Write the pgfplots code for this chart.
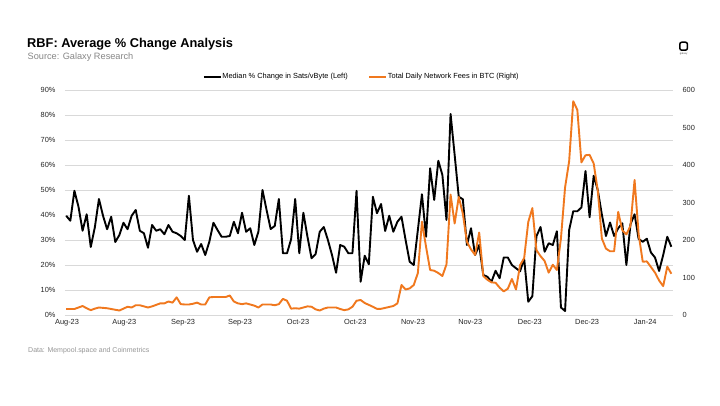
\documentclass[border=0pt]{standalone}
\usepackage{fontspec}
\setmainfont{Liberation Sans}
\usepackage{pgfplots}
\usepackage{pgfplotstable}
\pgfplotsset{compat=1.18}
\definecolor{fee}{RGB}{240,120,30}
\definecolor{gridc}{RGB}{217,217,217}
\definecolor{subgray}{RGB}{135,135,135}
\definecolor{foot}{RGB}{150,150,150}
\pgfplotstableread{
i med fee
0 39.7 16
1 37.7 16
2 49.7 16
3 43.3 20
4 33.7 24
5 40.3 18
6 27.2 13
7 35.1 17
8 46.4 20
9 39.7 19
10 34.3 18
11 39.3 16
12 29.2 14
13 32.0 12
14 36.9 17
15 34.3 22
16 39.7 20
17 42.0 26
18 33.7 26
19 32.7 23
20 26.9 20
21 36.0 23
22 33.7 27
23 34.3 31
24 32.3 31
25 36.0 36
26 33.3 33
27 32.7 47
28 31.6 29
29 30.0 28
30 47.7 28
31 30.0 30
32 25.3 33
33 28.4 28
34 24.0 28
35 29.3 47
36 36.9 48
37 34.0 48
38 31.3 48
39 31.3 48
40 31.6 52
41 37.3 36
42 32.7 31
43 40.9 29
44 33.3 31
45 34.7 28
46 28.0 25
47 33.3 20
48 50.0 28
49 42.0 28
50 34.4 28
51 35.6 26
52 46.4 29
53 24.7 43
54 24.7 38
55 30.3 17
56 46.4 18
57 24.7 17
58 40.9 20
59 31.3 23
60 22.7 22
61 24.4 15
62 33.3 12
63 35.2 17
64 30.0 20
65 24.0 20
66 16.9 20
67 28.0 16
68 27.3 13
69 24.7 15
70 24.7 22
71 49.7 38
72 13.3 40
73 23.7 32
74 20.3 27
75 47.3 22
76 40.7 16.5
77 44.4 16.5
78 33.6 19
79 39.7 21.5
80 33.3 24
81 37.3 31
82 39.3 80
83 30.0 68
84 21.3 71
85 20.0 80
86 34.0 112
87 48.3 249
88 31.3 182
89 58.7 120
90 46.0 118
91 61.7 112
92 56.0 104
93 38.0 135
94 80.4 321
95 64.0 244
96 47.3 315
97 46.3 270
98 28.0 195
99 34.7 175
100 24.0 160
101 28.0 220
102 16.0 104
103 15.3 94
104 13.3 87
105 17.7 86
106 14.7 73
107 23.0 63
108 23.0 70
109 20.0 96
110 18.7 68
111 17.5 133
112 22.5 152
113 5.3 248
114 7.5 285
115 31.5 173
116 35.2 157
117 25.3 144
118 28.7 113
119 28.0 134
120 33.5 120
121 3.0 205
122 1.6 340
123 34.0 410
124 41.5 570
125 41.5 547
126 43.0 407
127 57.6 426
128 39.1 427
129 55.7 404
130 50.0 332
131 40.2 204
132 31.6 177
133 37.0 170
134 31.6 170
135 34.7 275
136 36.7 226
137 20.0 215
138 36.3 238
139 40.3 360
140 30.4 215
141 29.3 142
142 30.5 143
143 25.0 128
144 23.0 113
145 17.6 92
146 24.0 77
147 31.3 129
148 27.3 110
}\datatable
\begin{document}
\begin{tikzpicture}
\useasboundingbox (0pt,0pt) rectangle (720pt,405pt);
\fill[white] (0pt,0pt) rectangle (720pt,405pt);
% titles
\node[anchor=base west, inner sep=0, font=\fontsize{12.8}{14}\selectfont\bfseries] at (27pt,357.3pt) {RBF: Average \% Change Analysis};
\node[anchor=base west, inner sep=0, text=subgray, font=\fontsize{9.2}{11}\selectfont] at (27.5pt,345pt) {Source: Galaxy Research};
\node[anchor=base west, inner sep=0, text=foot, font=\fontsize{7}{8}\selectfont] at (28pt,53pt) {Data: Mempool.space and Coinmetrics};
% logo
\draw[line width=1.5pt, rounded corners=2pt] (679.8pt,354.8pt) rectangle (687.4pt,362.8pt);
\node[inner sep=0, text=black!70, font=\fontsize{2.6}{3}\selectfont] at (683.6pt,351pt) {galaxy};
\begin{axis}[
  at={(65pt,90pt)}, anchor=south west,
  scale only axis, width=608pt, height=225pt,
  xmin=-0.3, xmax=148.4, ymin=0, ymax=90,
  ytick={0,10,...,90},
  yticklabel={\pgfmathprintnumber{\tick}\%},
  xtick={0.2,14.2,28.6,42.5,56.7,70.7,84.8,98.8,113.4,127.4,141.6},
  xticklabels={Aug-23,Aug-23,Sep-23,Sep-23,Oct-23,Oct-23,Nov-23,Nov-23,Dec-23,Dec-23,Jan-24},
  ymajorgrids, grid style={gridc, line width=0.8pt},
  axis line style={draw=none}, major tick style={draw=none},
  tick label style={font=\fontsize{7.4}{9}\selectfont, text=black!85},
  /pgf/number format/assume math mode=true,
  yticklabel style={xshift=-6pt},
  xticklabel style={yshift=-1pt},
  clip=false,
  legend columns=2,
  legend cell align=left,
  legend image code/.code={\draw[#1] (0pt,0pt) -- (17pt,0pt);},
  legend style={at={(0.487,1)}, anchor=south, yshift=9pt, draw=none, fill=none,
    font=\fontsize{7.4}{9}\selectfont, inner sep=0pt,
    nodes={inner sep=0.6pt},
    /tikz/every even column/.append style={column sep=20pt}},
]
\addplot[black, line width=1.9pt, line join=round] table[x=i, y=med] {\datatable};
\addlegendentry{Median \% Change in Sats/vByte (Left)}
\addlegendimage{fee, line width=1.9pt}
\addlegendentry{Total Daily Network Fees in BTC (Right)}
\end{axis}
\begin{axis}[
  at={(65pt,90pt)}, anchor=south west,
  scale only axis, width=608pt, height=225pt,
  xmin=-0.3, xmax=148.4, ymin=0, ymax=600,
  axis y line*=right, axis x line=none,
  ytick={0,100,...,600},
  axis line style={draw=none}, major tick style={draw=none},
  tick label style={font=\fontsize{7.4}{9}\selectfont, text=black!85},
  /pgf/number format/assume math mode=true,
  yticklabel style={xshift=6pt},
]
\addplot[fee, line width=1.9pt, line join=round] table[x=i, y=fee] {\datatable};
\end{axis}
\end{tikzpicture}
\end{document}
